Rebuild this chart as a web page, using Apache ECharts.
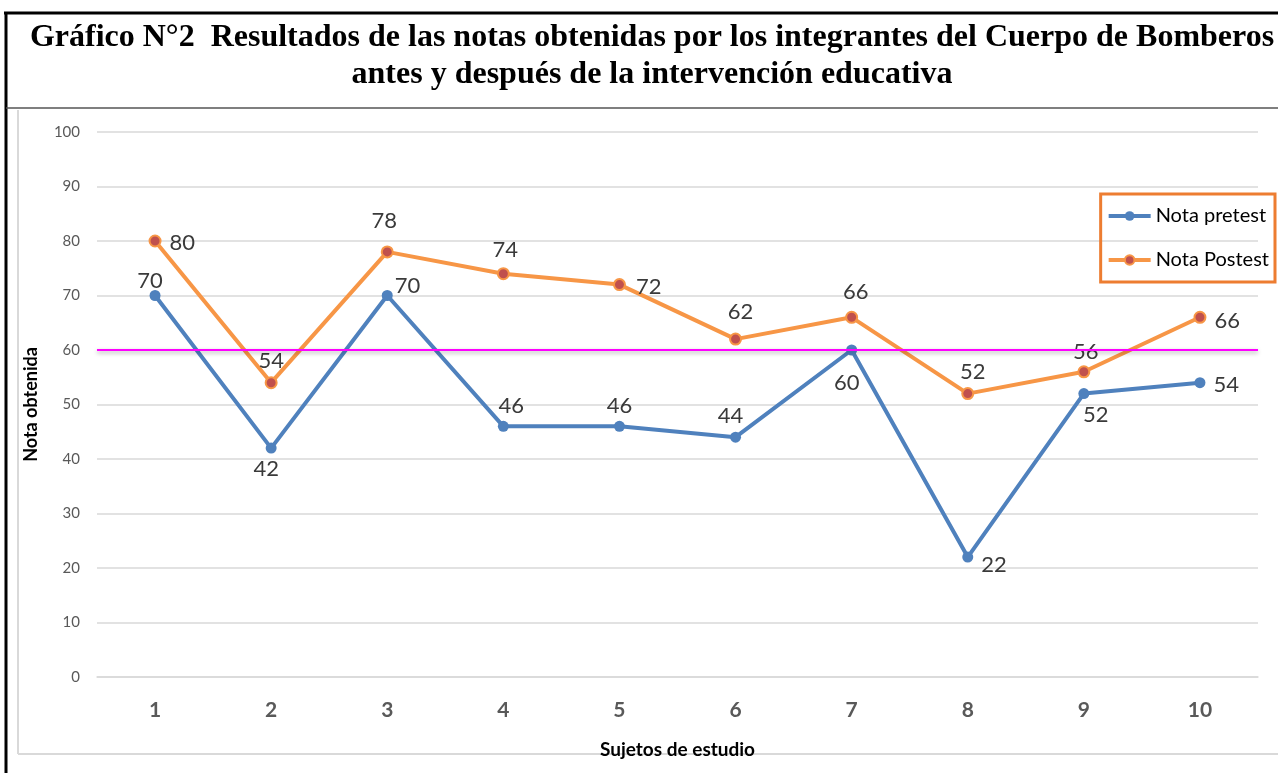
<!DOCTYPE html>
<html>
<head>
<meta charset="utf-8">
<script src="https://cdn.jsdelivr.net/npm/echarts@6/dist/echarts.min.js"></script>
<style>
  html, body { margin: 0; padding: 0; background: #fff; }
  #main { width: 1278px; height: 773px; }
</style>
</head>
<body>
<div id="main"></div>
<script>
var sujetos = ['1', '2', '3', '4', '5', '6', '7', '8', '9', '10'];
var notaPretest = [70, 42, 70, 46, 46, 44, 60, 22, 52, 54];
var notaPostest = [80, 54, 78, 74, 72, 62, 66, 52, 56, 66];
var notaMinima = 60;

// where each data label sits (Excel placed them by hand)
var posPre = ['top', 'bottom', 'right', 'top', 'top', 'top', 'bottom', 'right', 'bottom', 'right'];
var offPre = [[-5, 10], [-5, -4], [-6, -10], [8, 4], [0, 4], [-5, 3], [-5, 8], [0, 8], [12, -3], [0, 2]];
var posPost = ['right', 'top', 'top', 'top', 'right', 'top', 'top', 'top', 'top', 'right'];
var offPost = [[0, 2], [0, 4], [-3, -5], [2, 2], [2, 2], [5, -2], [4, 0], [5, 4], [2, 6], [0, 4]];

function withLabels(vals, pos, off) {
    return vals.map(function (v, i) {
        return { value: v, label: { position: pos[i], offset: off[i] } };
    });
}

var myChart = echarts.init(document.getElementById('main'));
var labelStyle = {
    show: true,
    fontFamily: 'Lato',
    fontSize: 22,
    color: '#3a3a3a',
    distance: 8
};
var option = {
    animation: false,
    title: {
        text: 'Gráfico N°2  Resultados de las notas obtenidas por los integrantes del Cuerpo de Bomberos\nantes y después de la intervención educativa',
        left: 647,
        top: 14,
        textAlign: 'center',
        textStyle: {
            fontFamily: 'Liberation Serif',
            fontWeight: 'bold',
            fontSize: 32,
            lineHeight: 37,
            color: '#000'
        }
    },
    graphic: [
        { type: 'line', shape: { x1: 4, y1: 13, x2: 1278, y2: 13 }, style: { stroke: '#000', lineWidth: 3 } },
        { type: 'line', shape: { x1: 6, y1: 12, x2: 6, y2: 773 }, style: { stroke: '#000', lineWidth: 3 } },
        { type: 'line', shape: { x1: 6, y1: 108, x2: 1278, y2: 108 }, style: { stroke: '#555', lineWidth: 1.5 } },
        { type: 'line', shape: { x1: 18, y1: 110, x2: 18, y2: 754 }, style: { stroke: '#d9d9d9', lineWidth: 2 } },
        { type: 'line', shape: { x1: 18, y1: 754, x2: 1278, y2: 754 }, style: { stroke: '#d9d9d9', lineWidth: 2 } }
    ],
    legend: {
        orient: 'vertical',
        right: 3,
        top: 194,
        padding: [12, 6, 12, 6],
        itemGap: 24,
        itemWidth: 42,
        itemHeight: 12,
        data: [
            { name: 'Nota pretest', lineStyle: { width: 4 } },
            { name: 'Nota Postest', lineStyle: { width: 4 } }
        ],
        borderColor: '#ED7D31',
        borderWidth: 3,
        textStyle: { fontFamily: 'Lato', fontSize: 20, color: '#000' }
    },
    grid: { left: 97, right: 20, top: 132, bottom: 96 },
    xAxis: {
        type: 'category',
        data: sujetos,
        name: 'Sujetos de estudio',
        nameLocation: 'middle',
        nameGap: 63,
        nameTextStyle: { fontFamily: 'Lato', fontWeight: 'bold', fontSize: 19, color: '#000' },
        axisLine: { lineStyle: { color: '#d9d9d9', width: 1.5 } },
        axisTick: { show: false },
        axisLabel: { fontFamily: 'Lato', fontWeight: 'bold', fontSize: 21, color: '#595959', margin: 23 }
    },
    yAxis: {
        type: 'value',
        min: 0,
        max: 100,
        interval: 10,
        name: 'Nota obtenida',
        nameLocation: 'middle',
        nameGap: 57,
        nameTextStyle: { fontFamily: 'Lato', fontWeight: 'bold', fontSize: 18, color: '#000' },
        axisLabel: { fontFamily: 'Lato', fontSize: 15, color: '#595959', margin: 17 },
        splitLine: { lineStyle: { color: '#d9d9d9', width: 1.5 } }
    },
    series: [{
        type: 'line',
        name: 'Nota pretest',
        data: withLabels(notaPretest, posPre, offPre),
        symbol: 'circle',
        symbolSize: 11,
        color: '#4F81BD',
        lineStyle: { width: 4, color: '#4F81BD' },
        itemStyle: { color: '#4F81BD' },
        label: labelStyle,
        z: 3
    }, {
        type: 'line',
        name: 'Nota Postest',
        data: withLabels(notaPostest, posPost, offPost),
        symbol: 'circle',
        symbolSize: 11,
        color: '#F79646',
        lineStyle: { width: 4, color: '#F79646' },
        itemStyle: { color: '#C0504D', borderColor: '#F79646', borderWidth: 2 },
        label: labelStyle,
        z: 3,
        markLine: {
            silent: true,
            symbol: 'none',
            label: { show: false },
            lineStyle: {
                color: '#FF00FF', width: 2, type: 'solid',
                shadowColor: 'rgba(0,0,0,0.35)', shadowBlur: 4, shadowOffsetY: 2
            },
            data: [{ yAxis: notaMinima }]
        }
    }]
};
myChart.setOption(option);
</script>
</body>
</html>
